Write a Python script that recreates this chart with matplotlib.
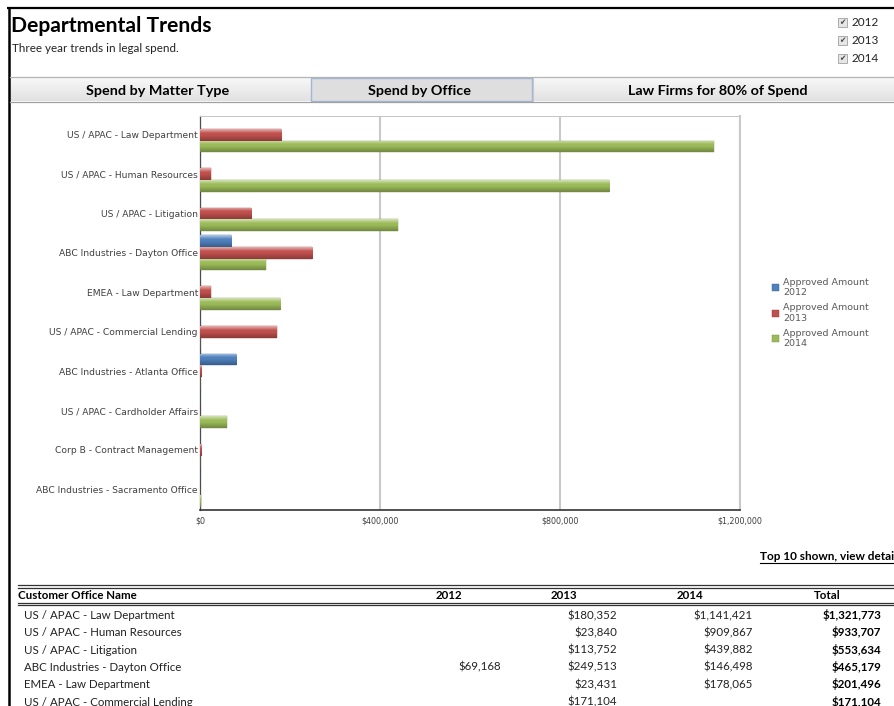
import numpy as np
import matplotlib
matplotlib.use("Agg")
import matplotlib.pyplot as plt
from matplotlib.patches import Rectangle
from matplotlib.ticker import FuncFormatter
from matplotlib.colors import to_rgb

# ---- data -----------------------------------------------------------------
offices = [
    "US / APAC - Law Department",
    "US / APAC - Human Resources",
    "US / APAC - Litigation",
    "ABC Industries - Dayton Office",
    "EMEA - Law Department",
    "US / APAC - Commercial Lending",
    "ABC Industries - Atlanta Office",
    "US / APAC - Cardholder Affairs",
    "Corp B - Contract Management",
    "ABC Industries - Sacramento Office",
]
amount_2012 = [0, 0, 0, 69168, 0, 0, 81000, 0, 0, 0]
amount_2013 = [180352, 23840, 113752, 249513, 23431, 171104, 3000, 0, 3000, 0]
amount_2014 = [1141421, 909867, 439882, 146498, 178065, 0, 0, 60000, 0, 2000]
years = ["2012", "2013", "2014"]
series_labels = ["Approved Amount\n2012", "Approved Amount\n2013", "Approved Amount\n2014"]
series_colors = ["#4F81BD", "#C0504D", "#9BBB59"]
x_ticks = [0, 400000, 800000, 1200000]
tabs = ["Spend by Matter Type", "Spend by Office", "Law Firms for 80% of Spend"]
table_columns = ["Customer Office Name", "2012", "2013", "2014", "Total"]
rows_visible = 6

# ---- canvas ---------------------------------------------------------------
W, H = 895, 706
fig = plt.figure(figsize=(W / 100, H / 100), dpi=100)
fig.patch.set_facecolor("white")

# full-page axes in pixel coordinates for the page furniture
bg = fig.add_axes([0, 0, 1, 1])
bg.set_xlim(0, W)
bg.set_ylim(H, 0)
bg.axis("off")

SANS = "Lato"

# page frame
bg.plot([8.8, 8.8], [7.5, H], color="black", lw=1.8, solid_capstyle="butt")
bg.plot([7.5, W], [8.3, 8.3], color="black", lw=1.6, solid_capstyle="butt")

# heading
bg.text(11, 32, "Departmental Trends", fontfamily=SANS, fontweight="bold",
        fontsize=15.2, color="black", va="baseline", ha="left")
bg.text(12, 51.5, "Three year trends in legal spend.", fontfamily=SANS,
        fontsize=8.4, color="#222222", va="baseline", ha="left")

# year filter check boxes
for i, yr in enumerate(years):
    yb = 26.5 + 18 * i
    bg.add_patch(Rectangle((838, yb - 8.5), 9, 9, facecolor="#e6e6e6",
                           edgecolor="#a0a0a0", lw=0.6))
    bg.text(842.6, yb - 3.8, "\u2714", fontfamily="DejaVu Sans", fontsize=5.5,
            color="#4a4a4a", ha="center", va="center")
    bg.text(852, yb, yr, fontfamily=SANS, fontsize=8.5, color="#222222",
            va="baseline", ha="left")

# tab strip
tab_centers = [157.5, 420, 718]
grad = np.linspace(0, 1, 24)
strip = np.array([0.975, 0.975, 0.975]) * (1 - grad[:, None]) + np.array([0.885, 0.885, 0.885]) * grad[:, None]
bg.imshow(strip[:, None, :], extent=(10, W, 101, 77), origin="upper",
          aspect="auto", interpolation="bilinear", zorder=1)
bg.add_patch(Rectangle((311.5, 77.5), 221, 23.5, facecolor="#dedede",
                       edgecolor="#9fb6da", lw=1.0, zorder=2))
bg.plot([10, W], [77.3, 77.3], color="#b4b4b4", lw=0.9, zorder=3)
bg.plot([10, W], [101.5, 101.5], color="#a0a0a0", lw=0.9, zorder=3)
bg.plot([533, 533], [77.5, 101], color="#c8c8c8", lw=0.8, zorder=3)
for name, cx in zip(tabs, tab_centers):
    bg.text(cx, 95, name, fontfamily=SANS, fontweight="bold", fontsize=10.4,
            color="black", ha="center", va="baseline", zorder=4)

# ---- bar chart ------------------------------------------------------------
ax = fig.add_axes([200 / W, 1 - 510 / H, 540 / W, 394 / H])
ax.set_facecolor("white")
ypos = np.arange(len(offices))
bh = 0.296
series = [amount_2012, amount_2013, amount_2014]


def add_gradient(patch, color):
    w = patch.get_width()
    if w <= 0:
        return
    x0, y0, h = patch.get_x(), patch.get_y(), patch.get_height()
    base = np.array(to_rgb(color))
    t = np.linspace(0, 1, 40)
    light = np.clip(0.55 - t * 1.6, 0, None)
    dark = np.clip((t - 0.5) * 0.55, 0, None)
    col = base * (1 - light[:, None]) + light[:, None]
    col = col * (1 - dark[:, None])
    im = ax.imshow(col[:, None, :], extent=(x0, x0 + w, y0 + h, y0),
                   origin="upper", aspect="auto", interpolation="bilinear",
                   zorder=3.5)
    im.set_clip_path(patch)


containers = []
for k, (vals, col, lab) in enumerate(zip(series, series_colors, series_labels)):
    edge = tuple(np.array(to_rgb(col)) * 0.75)
    bars = ax.barh(ypos + (k - 1) * bh, vals, height=bh, color=col,
                   edgecolor=edge, linewidth=0.3, label=lab, zorder=3)
    containers.append(bars)
    for p in bars.patches:
        add_gradient(p, col)

ax.set_xlim(0, 1200000)
ax.set_ylim(len(offices) - 0.475, -0.475)
ax.set_xticks(x_ticks)
ax.xaxis.set_major_formatter(FuncFormatter(lambda v, _: f"${v:,.0f}"))
ax.set_yticks(ypos)
ax.set_yticklabels(offices)
ax.tick_params(axis="y", length=0, pad=1.5, labelsize=6.6, labelcolor="#404040")
ax.tick_params(axis="x", length=0, pad=4.5, labelsize=5.8, labelcolor="#404040")
for lbl in ax.get_xticklabels() + ax.get_yticklabels():
    lbl.set_fontfamily("DejaVu Sans")
ax.grid(axis="x", color="#c9c9c9", lw=1.5, zorder=0)
ax.set_axisbelow(True)
ax.spines["left"].set_color("#4a4a4a")
ax.spines["left"].set_linewidth(0.9)
ax.spines["bottom"].set_color("#333333")
ax.spines["bottom"].set_linewidth(1.2)
ax.spines["right"].set_color("#c9c9c9")
ax.spines["right"].set_linewidth(1.5)
ax.spines["top"].set_color("#c4c4c4")
ax.spines["top"].set_linewidth(0.7)

leg = fig.legend(handles=containers, labels=series_labels, loc="upper left",
                 bbox_to_anchor=(772 / W, 1 - 278 / H), frameon=False,
                 prop={"family": "DejaVu Sans", "size": 6.8},
                 labelcolor="#595959", handlelength=0.75, handleheight=0.75,
                 handletextpad=0.45, labelspacing=0.62, borderpad=0,
                 borderaxespad=0)

# ---- summary table --------------------------------------------------------
bg.text(760, 560, "Top 10 shown, view details", fontfamily=SANS,
        fontweight="bold", fontsize=8.5, color="black", va="baseline", ha="left")
bg.plot([760, W], [562.5, 562.5], color="black", lw=0.8)

for yl in (585.2, 588.0, 602.5, 605.3):
    bg.plot([18, W], [yl, yl], color="#333333", lw=0.9)

col_right = [None, 501, 617, 753, 881]
col_head_center = [None, 449, 564, 690, 827]
bg.text(18, 599, table_columns[0], fontfamily=SANS, fontweight="bold",
        fontsize=8.3, va="baseline", ha="left")
for c in range(1, 5):
    bg.text(col_head_center[c], 599, table_columns[c], fontfamily=SANS,
            fontweight="bold", fontsize=8.3, va="baseline", ha="center")


def money(v):
    return f"${v:,.0f}" if v else ""


for r in range(rows_visible):
    yb = 619 + 17.3 * r
    vals = [amount_2012[r], amount_2013[r], amount_2014[r]]
    total = sum(vals)
    bg.text(24, yb, offices[r], fontfamily=SANS, fontsize=8.3,
            color="#222222", va="baseline", ha="left")
    for c, v in enumerate(vals, start=1):
        bg.text(col_right[c], yb, money(v), fontfamily=SANS, fontsize=8.3,
                color="#222222", va="baseline", ha="right")
    bg.text(col_right[4], yb, money(total), fontfamily=SANS, fontsize=8.3,
            fontweight="bold", color="black", va="baseline", ha="right")

fig.savefig("out.png", dpi=100, facecolor="white")
